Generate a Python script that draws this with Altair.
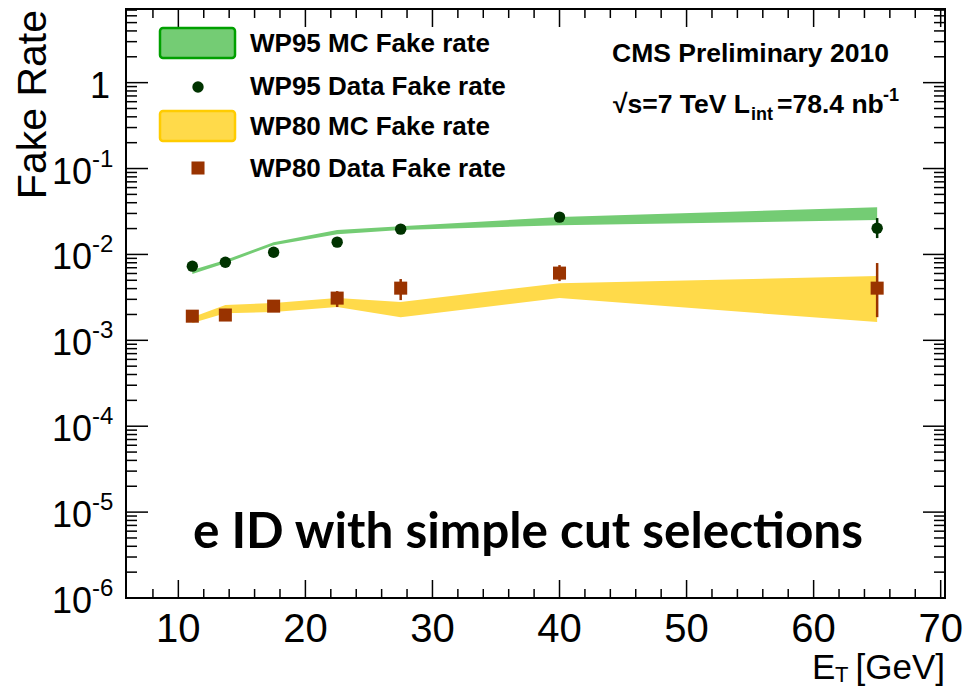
import altair as alt
import pandas as pd

# ---------------- data ----------------
et = [11.1, 13.7, 17.5, 22.5, 27.5, 40.0, 65.0]

wp95_data = [0.0073, 0.0081, 0.0106, 0.0139, 0.0197, 0.0272, 0.0202]
wp95_data_lo = [0.0069, 0.0077, 0.0101, 0.0134, 0.0190, 0.0262, 0.0155]
wp95_data_hi = [0.0077, 0.0085, 0.0111, 0.0144, 0.0204, 0.0282, 0.0265]

wp80_data = [0.00191, 0.00197, 0.00250, 0.00310, 0.00405, 0.00606, 0.00405]
wp80_data_lo = [0.00182, 0.00170, 0.00240, 0.00244, 0.00294, 0.00489, 0.00186]
wp80_data_hi = [0.00200, 0.00232, 0.00260, 0.00374, 0.00517, 0.00751, 0.00794]

wp95_mc_lo = [0.0059, 0.0079, 0.0128, 0.0172, 0.0192, 0.0219, 0.0251]
wp95_mc_hi = [0.0066, 0.0086, 0.0139, 0.0192, 0.0213, 0.0272, 0.0355]

wp80_mc_lo = [0.00159, 0.00207, 0.00213, 0.00244, 0.00186, 0.00310, 0.00163]
wp80_mc_hi = [0.00186, 0.00257, 0.00272, 0.00310, 0.00279, 0.00463, 0.00559]

x_major = [10, 20, 30, 40, 50, 60, 70]
x_minor = [v for v in range(8, 70, 2) if v % 10 != 0]
y_major = [1e-6, 1e-5, 1e-4, 1e-3, 1e-2, 1e-1, 1.0]
y_minor = [k * 10.0 ** e for e in range(-6, 1) for k in range(2, 10) if k * 10.0 ** e <= 7.1]
y_exp = ["-6", "-5", "-4", "-3", "-2", "-1"]

legend_labels = ["WP95 MC Fake rate", "WP95 Data Fake rate",
                 "WP80 MC Fake rate", "WP80 Data Fake rate"]

# ---------------- layout ----------------
W, H = 819, 589
GREEN_FILL = "#74cc74"
GREEN_LINE = "#00a000"
YELLOW_FILL = "#ffda4a"
YELLOW_LINE = "#ffcc00"
DKGREEN = "#003300"
BROWN = "#993300"
FONT = "Liberation Sans"

xs = alt.Scale(domain=[5.88, 70.34], nice=False, zero=False)
ys = alt.Scale(type="log", domain=[1e-6, 7.2], nice=False)

df95 = pd.DataFrame({"x": et, "y": wp95_data, "lo": wp95_data_lo, "hi": wp95_data_hi,
                     "mlo": wp95_mc_lo, "mhi": wp95_mc_hi})
df80 = pd.DataFrame({"x": et, "y": wp80_data, "lo": wp80_data_lo, "hi": wp80_data_hi,
                     "mlo": wp80_mc_lo, "mhi": wp80_mc_hi})

X = lambda: alt.X("x:Q", scale=xs, axis=None)
Yq = lambda f: alt.Y(f, scale=ys, axis=None)

band95 = alt.Chart(df95).mark_area(color=GREEN_FILL, opacity=1).encode(
    x=X(), y=Yq("mhi:Q"), y2="mlo:Q")
band80 = alt.Chart(df80).mark_area(color=YELLOW_FILL, opacity=1).encode(
    x=X(), y=Yq("mhi:Q"), y2="mlo:Q")

err95 = alt.Chart(df95).mark_rule(color=DKGREEN, strokeWidth=2.5).encode(
    x=X(), y=Yq("lo:Q"), y2="hi:Q")
err80 = alt.Chart(df80).mark_rule(color=BROWN, strokeWidth=2.5).encode(
    x=X(), y=Yq("lo:Q"), y2="hi:Q")

pts95 = alt.Chart(df95).mark_point(shape="circle", filled=True, color=DKGREEN, opacity=1,
                                   size=130).encode(x=X(), y=Yq("y:Q"))
pts80 = alt.Chart(df80).mark_point(shape="square", filled=True, color=BROWN, opacity=1,
                                   size=170).encode(x=X(), y=Yq("y:Q"))

# ---------------- ticks (inside the frame, on all four sides) ----------------
dxM = pd.DataFrame({"x": x_major, "t": [str(v) for v in x_major]})
dxm = pd.DataFrame({"x": x_minor})
dyM = pd.DataFrame({"y": y_major})
dym = pd.DataFrame({"y": y_minor})

def xticks(d, L):
    b = alt.Chart(d).mark_rule(color="black", strokeWidth=1.5).encode(
        x=X(), y=alt.value(H), y2=alt.value(H - L))
    t = alt.Chart(d).mark_rule(color="black", strokeWidth=1.5).encode(
        x=X(), y=alt.value(0), y2=alt.value(L))
    return [b, t]

def yticks(d, L):
    l = alt.Chart(d).mark_rule(color="black", strokeWidth=1.5).encode(
        y=Yq("y:Q"), x=alt.value(0), x2=alt.value(L))
    r = alt.Chart(d).mark_rule(color="black", strokeWidth=1.5).encode(
        y=Yq("y:Q"), x=alt.value(W), x2=alt.value(W - L))
    return [l, r]

ticks = xticks(dxM, 18) + xticks(dxm, 9) + yticks(dyM, 22) + yticks(dym, 11)

# ---------------- tick labels ----------------
xlab = alt.Chart(dxM).mark_text(align="center", baseline="middle", fontSize=40,
                                font=FONT).encode(x=X(), y=alt.value(H + 32), text="t:N")

dlab = pd.DataFrame({"y": y_major[:-1], "base": ["10"] * 6, "exp": y_exp})
ylab_base = alt.Chart(dlab).mark_text(align="right", baseline="middle", fontSize=36,
                                      font=FONT, dy=4).encode(
    y=Yq("y:Q"), x=alt.value(-34), text="base:N")
ylab_exp = alt.Chart(dlab).mark_text(align="left", baseline="middle", fontSize=24,
                                     font=FONT, dy=-9).encode(
    y=Yq("y:Q"), x=alt.value(-34), text="exp:N")
ylab_one = alt.Chart(pd.DataFrame({"y": [1.0], "t": ["1"]})).mark_text(
    align="right", baseline="middle", fontSize=36, font=FONT, dy=4).encode(
    y=Yq("y:Q"), x=alt.value(-16), text="t:N")

one = pd.DataFrame({"a": [0]})

def txt(s, x, y, size, bold=False, align="left", baseline="middle", font=FONT, angle=0, color="black"):
    kw = dict(align=align, baseline=baseline, fontSize=size, font=font, color=color,
              fontWeight="bold" if bold else "normal")
    if angle:
        kw["angle"] = angle
    return alt.Chart(one).mark_text(**kw).encode(x=alt.value(x), y=alt.value(y), text=alt.value(s))

# axis titles
ytitle = txt("Fake Rate", -80, 1, 41, align="right", baseline="alphabetic", angle=270)
xt_E = txt("E", 686, 670, 35, baseline="alphabetic")
xt_T = txt("T", 709, 673, 22, baseline="alphabetic")
xt_G = txt("[GeV]", W, 670, 35, align="right", baseline="alphabetic")

# ---------------- legend ----------------
leg_box95 = alt.Chart(one).mark_rect(fill=GREEN_FILL, stroke=GREEN_LINE, strokeWidth=2.5,
                                     cornerRadius=3).encode(
    x=alt.value(34), x2=alt.value(109), y=alt.value(19), y2=alt.value(49))
leg_box80 = alt.Chart(one).mark_rect(fill=YELLOW_FILL, stroke=YELLOW_LINE, strokeWidth=2.5,
                                     cornerRadius=3).encode(
    x=alt.value(34), x2=alt.value(109), y=alt.value(102), y2=alt.value(132))
leg_pt95 = alt.Chart(one).mark_point(shape="circle", filled=True, color=DKGREEN, opacity=1,
                                     size=130).encode(x=alt.value(72), y=alt.value(78))
leg_pt80 = alt.Chart(one).mark_point(shape="square", filled=True, color=BROWN, opacity=1,
                                     size=170).encode(x=alt.value(72), y=alt.value(159))
leg_txt = [txt(s, 124, yy, 26, bold=True) for s, yy in zip(legend_labels, [35, 78, 118, 160])]

# ---------------- CMS labels ----------------
cms1 = txt("CMS Preliminary 2010", 486, 45, 26.5, bold=True)
cms2a = txt("√s=7 TeV L", 487, 104, 26.5, bold=True, baseline="alphabetic")
cms2b = txt("int", 625, 111, 18, bold=True, baseline="alphabetic")
cms2c = txt("=78.4 nb", 651, 104, 26.5, bold=True, baseline="alphabetic")
cms2d = txt("-1", 757, 92, 18, bold=True, baseline="alphabetic")

big = txt("e ID with simple cut selections", 402, 539, 49.5, bold=True, align="center",
          baseline="alphabetic", font="Lato")

layers = [band95, band80, err95, err80, pts95, pts80] + ticks + [
    xlab, ylab_base, ylab_exp, ylab_one, ytitle, xt_E, xt_T, xt_G,
    leg_box95, leg_box80, leg_pt95, leg_pt80] + leg_txt + [cms1, cms2a, cms2b, cms2c, cms2d, big]

chart = alt.layer(*layers).properties(
    width=W, height=H,
    autosize=alt.AutoSizeParams(type="none"),
    padding={"left": 126, "top": 9, "right": 18, "bottom": 89},
    background="white",
).configure_view(stroke="black", strokeWidth=2)

chart.save("out.html", embed_options={"renderer": "svg", "actions": False})
